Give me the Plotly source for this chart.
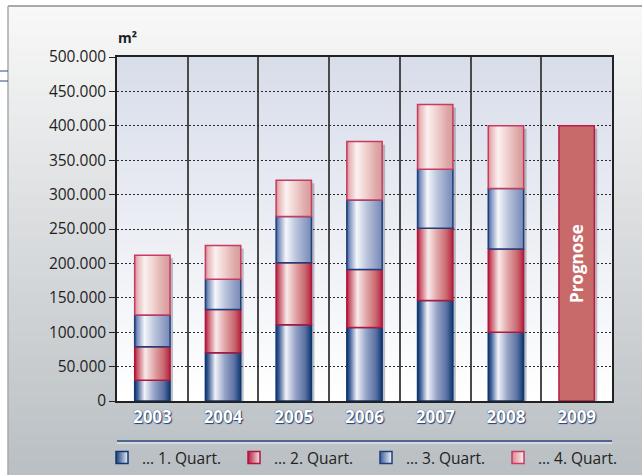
import plotly.graph_objects as go

# ---- data -------------------------------------------------------------
years = ["2003", "2004", "2005", "2006", "2007", "2008", "2009"]
quarter_names = ["… 1. Quart.", "… 2. Quart.", "… 3. Quart.", "… 4. Quart."]
q1 = [30000, 70000, 111000, 107000, 146000, 100000]
q2 = [49000, 63000, 90000, 84000, 105000, 121000]
q3 = [46000, 44000, 67000, 101000, 86000, 88000]
q4 = [87000, 49000, 53000, 85000, 94000, 91000]
prognose_value = 400000
prognose_label = "Prognose"
y_unit = "m²"

# ---- geometry / style -------------------------------------------------
W, H = 642, 475
L, R, T, B = 117, 30, 57, 74
PW, PH = W - L - R, H - T - B
BAR_W = 0.5
SHADOW_DX = 0.042      # shadow shift in category units (~3 px)
SHADOW_DY = 4400       # shadow drop in m² (~3 px)
FONT = "Open Sans"


def px_x(px):
    return (px - L) / PW


def px_y(py):
    return (H - B - py) / PH


def lerp_hex(c0, c1, t):
    a = [int(c0[i:i + 2], 16) for i in (1, 3, 5)]
    b = [int(c1[i:i + 2], 16) for i in (1, 3, 5)]
    return "rgb(%d,%d,%d)" % tuple(round(a[j] + (b[j] - a[j]) * t) for j in range(3))


styles = [
    dict(border="#0f3872",
         scale=[[0, "#0b3570"], [0.08, "#3d5d96"], [0.28, "#f2f3f9"], [0.55, "#95a3c6"],
                [0.82, "#5b71a3"], [1, "#0d3872"]],
         edge="#143d78", center="#eef1f8"),
    dict(border="#b3153c",
         scale=[[0, "#b0173a"], [0.08, "#c9596a"], [0.3, "#f8eaea"], [0.55, "#e2a6a8"],
                [0.82, "#c9676f"], [1, "#b5223f"]],
         edge="#b51b3f", center="#f8e8e8"),
    dict(border="#1d3f7c",
         scale=[[0, "#3b5b96"], [0.08, "#8194bf"], [0.28, "#f5f7fb"], [0.55, "#bcc6dd"],
                [0.85, "#8d9cc3"], [1, "#7689b7"]],
         edge="#3b5b96", center="#f4f6fb"),
    dict(border="#c93a60",
         scale=[[0, "#d68a92"], [0.08, "#e8b7ba"], [0.28, "#fbf1f0"], [0.55, "#efcfcd"],
                [0.85, "#dea6a6"], [1, "#d89a9b"]],
         edge="#d98890", center="#fbf0f0"),
]
PROGNOSE_FILL = "#c96a6a"
PROGNOSE_LINE = "#b81c44"


def rect(x0, x1, y0, y1):
    return [x0, x1, x1, x0, x0], [y0, y0, y1, y1, y0]


fig = go.Figure()
series = [q1, q2, q3, q4]
totals = [sum(v) for v in zip(*series)] + [prognose_value]

# drop shadows behind every column
sx, sy = [], []
for i, tot in enumerate(totals):
    xs, ys = rect(i - BAR_W / 2 + SHADOW_DX, i + BAR_W / 2 + SHADOW_DX, 0, tot - SHADOW_DY)
    sx += xs + [None]
    sy += ys + [None]
fig.add_trace(go.Scatter(x=sx, y=sy, mode="none", fill="toself",
                         fillcolor="rgba(105,110,118,0.42)", hoverinfo="skip",
                         showlegend=False))

# stacked quarterly segments with cylinder shading
base = [0] * len(q1)
for k, (vals, st, name) in enumerate(zip(series, styles, quarter_names)):
    for i, v in enumerate(vals):
        xs, ys = rect(i - BAR_W / 2, i + BAR_W / 2, base[i], base[i] + v)
        fig.add_trace(go.Scatter(
            x=xs, y=ys, mode="lines", fill="toself",
            fillgradient=dict(type="horizontal", colorscale=st["scale"]),
            line=dict(color=st["border"], width=1.5),
            name=name, legendgroup=f"q{k}", showlegend=False,
            hoveron="fills", hoverinfo="name"))
        base[i] += v
    fig.add_trace(go.Scatter(
        x=[None], y=[None], mode="markers", name=name, legendgroup=f"q{k}",
        marker=dict(symbol="square", size=12, color=st["edge"],
                    gradient=dict(type="horizontal", color=st["center"]),
                    line=dict(color=st["border"], width=1.5))))

# forecast column
i = len(years) - 1
xs, ys = rect(i - BAR_W / 2, i + BAR_W / 2, 0, prognose_value)
fig.add_trace(go.Scatter(x=xs, y=ys, mode="lines", fill="toself", fillcolor=PROGNOSE_FILL,
                         line=dict(color=PROGNOSE_LINE, width=1.5), name=prognose_label,
                         showlegend=False, hoveron="fills", hoverinfo="name"))

# ---- background gradients as thin stripes -----------------------------
shapes = []
top_px, n = 6, 94
step = (H - top_px) / n
for s in range(n):
    y0 = top_px + s * step
    shapes.append(dict(type="rect", xref="paper", yref="paper", layer="below",
                       x0=px_x(8), x1=px_x(W + 2), y0=px_y(y0), y1=px_y(y0 + step + 1),
                       line=dict(width=0),
                       fillcolor=lerp_hex("#f8f8f8", "#b9bfc3", s / (n - 1))))
n2 = 86
step2 = PH / n2
for s in range(n2):
    y0 = T + s * step2
    shapes.append(dict(type="rect", xref="paper", yref="paper", layer="below",
                       x0=0, x1=1, y0=px_y(y0), y1=px_y(y0 + step2 + 0.6),
                       line=dict(width=0),
                       fillcolor=lerp_hex("#d8ddea", "#ffffff", s / (n2 - 1))))

# frame lines, left accents and the rule above the legend
shapes += [
    dict(type="line", xref="paper", yref="paper", x0=px_x(8), x1=px_x(W + 2),
         y0=px_y(6), y1=px_y(6), line=dict(color="#a6aaae", width=2)),
    dict(type="line", xref="paper", yref="paper", x0=px_x(8), x1=px_x(8),
         y0=px_y(6), y1=px_y(H + 2), line=dict(color="#a6aaae", width=1.5)),
    dict(type="line", xref="paper", yref="paper", x0=px_x(0), x1=px_x(8),
         y0=px_y(71), y1=px_y(71), line=dict(color="#2a4a80", width=1)),
    dict(type="line", xref="paper", yref="paper", x0=px_x(0), x1=px_x(8),
         y0=px_y(81), y1=px_y(81), line=dict(color="#2a4a80", width=1)),
    dict(type="line", xref="paper", yref="paper", x0=0, x1=1,
         y0=px_y(441), y1=px_y(441), line=dict(color="#4b6790", width=2)),
    dict(type="line", xref="paper", yref="paper", x0=0, x1=1,
         y0=px_y(443), y1=px_y(443), line=dict(color="#eef0f2", width=1)),
]

annotations = [
    dict(text=f"<b>{y_unit}</b>", xref="paper", yref="paper", x=px_x(127), y=px_y(38),
         xanchor="center", yanchor="middle", showarrow=False,
         font=dict(family=FONT, size=14, color="#1e1e1e")),
    dict(text=f"<b>{prognose_label}</b>", x=len(years) - 1, y=prognose_value / 2,
         xref="x", yref="y", textangle=-90, showarrow=False,
         font=dict(family=FONT, size=17, color="white")),
]

fig.update_layout(
    width=W, height=H, autosize=False,
    margin=dict(l=L, r=R, t=T, b=B, pad=0, autoexpand=False),
    paper_bgcolor="white", plot_bgcolor="rgba(0,0,0,0)",
    separators=",.",
    font=dict(family=FONT, color="#1e1e1e"),
    shapes=shapes, annotations=annotations,
    showlegend=True,
    legend=dict(orientation="h", x=px_x(102), xanchor="left", y=px_y(458), yanchor="middle",
                bgcolor="rgba(0,0,0,0)", font=dict(family=FONT, size=15.5, color="#222"),
                entrywidth=87, entrywidthmode="pixels", itemwidth=30,
                traceorder="normal", itemclick="toggle"),
    hovermode="closest",
)

fig.update_xaxes(
    range=[-0.5, len(years) - 0.5], tickmode="array",
    tickvals=list(range(len(years))), ticktext=years,
    showgrid=False, zeroline=False, ticks="",
    showline=True, mirror=True, linecolor="#222", linewidth=1.5,
    tickfont=dict(family=FONT, size=17, color="white", weight="bold",
                  shadow="1px 1px 1px #1f3f74, 0px 0px 1px #1f3f74"),
    minor=dict(tickmode="array", tickvals=[j + 0.5 for j in range(len(years) - 1)],
               showgrid=True, gridcolor="#4a4a4a", gridwidth=1.5, ticks=""),
    fixedrange=True,
)
fig.update_yaxes(
    range=[0, 500000], dtick=50000, tickformat=",d",
    showgrid=True, gridcolor="#2a2a2a", gridwidth=1, griddash="2px,2px",
    zeroline=False, showline=True, mirror=True, linecolor="#222", linewidth=1.5,
    ticks="outside", ticklen=6, tickcolor="#222", tickwidth=1,
    tickfont=dict(family=FONT, size=15.5, color="#1e1e1e"),
    fixedrange=True,
)

fig.write_html("out.html")
